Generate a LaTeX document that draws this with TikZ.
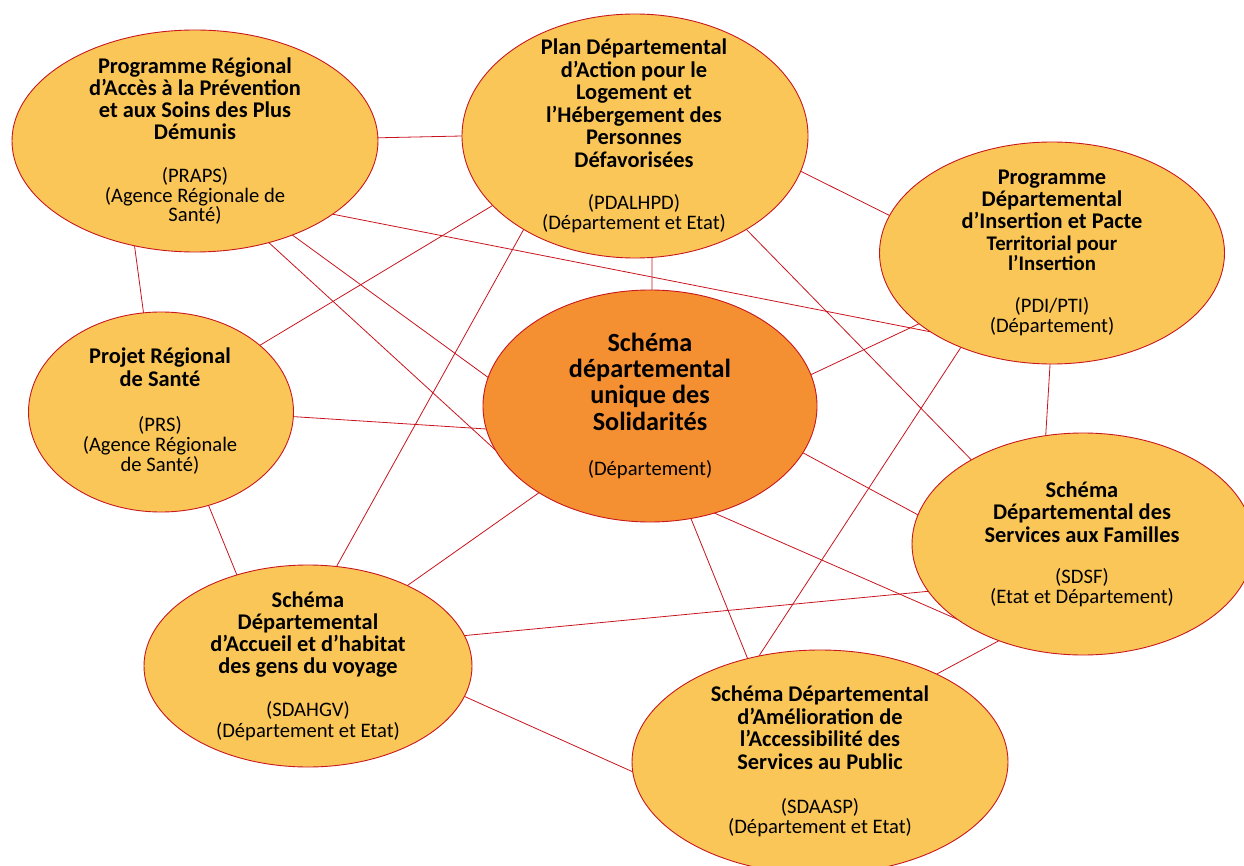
\documentclass[tikz,border=0pt]{standalone}
\usepackage{fontspec}
\setmainfont{Carlito}
\usetikzlibrary{shapes.geometric,backgrounds}
\definecolor{ellY}{RGB}{250,198,88}
\definecolor{ellO}{RGB}{244,143,50}
\definecolor{ellB}{RGB}{200,24,30}
\definecolor{lnR}{RGB}{200,20,30}
\begin{document}
\begin{tikzpicture}[x=1pt,y=-1pt,
  ell/.style={ellipse, draw=ellB, line width=0.9pt, fill=ellY, inner sep=0pt, outer sep=0pt},
  btxt/.style={align=center, anchor=base, inner sep=0pt, font=\bfseries\fontsize{22.4}{22.3}\selectfont},
  bstxt/.style={align=center, anchor=base, inner sep=0pt, font=\bfseries\fontsize{20.8}{20}\selectfont},
  ctxt/.style={align=center, anchor=base, inner sep=0pt, font=\bfseries\fontsize{26.2}{26.3}\selectfont},
  ntxt/.style={align=center, anchor=base, inner sep=0pt, font=\fontsize{20.6}{20}\selectfont},
  lnk/.style={draw=lnR, line width=0.8pt}]
\useasboundingbox (0,0) rectangle (1244,866);
\clip (0,0) rectangle (1244,866);

% ellipses
\node[ell, minimum width=366pt, minimum height=222pt] (praps) at (195,141) {};
\node[ell, minimum width=346pt, minimum height=244pt] (pdal) at (635,136) {};
\node[ell, minimum width=345pt, minimum height=222pt] (pdi) at (1052,253) {};
\node[ell, minimum width=265pt, minimum height=200pt] (prs) at (161,412) {};
\node[ell, fill=ellO, minimum width=334pt, minimum height=232pt] (cen) at (650,406) {};
\node[ell, minimum width=342pt, minimum height=222pt] (sdsf) at (1083,544) {};
\node[ell, minimum width=328pt, minimum height=202pt] (sdahgv) at (308,666) {};
\node[ell, minimum width=376pt, minimum height=224pt] (sdaasp) at (820,762) {};

% texts (anchor = baseline of the last line)
\node[btxt] (prapsT) at (195,140) {Programme Régional\\d’Accès à la Prévention\\et aux Soins des Plus\\Démunis};
\node[ntxt, font=\fontsize{20.6}{19.7}\selectfont] (prapsN) at (195,222) {(PRAPS)\\(Agence Régionale de\\Santé)};

\node[btxt, font=\bfseries\fontsize{22.4}{22.5}\selectfont] (pdalT) at (634,167.5) {Plan Départemental\\d’Action pour le\\Logement et\\l’Hébergement des\\Personnes\\Défavorisées};
\node[ntxt] (pdalN) at (634,230) {(PDALHPD)\\(Département et Etat)};

\node[btxt, font=\bfseries\fontsize{22.4}{22}\selectfont] (pdiT) at (1052,229) {Programme\\Départemental\\d’Insertion et Pacte};
\node[bstxt] (pdiS) at (1052,271) {Territorial pour\\l’Insertion};
\node[ntxt] (pdiN) at (1052,333) {(PDI/PTI)\\(Département)};

\node[btxt, font=\bfseries\fontsize{22.4}{23}\selectfont] (prsT) at (160,386) {Projet Régional\\de Santé};
\node[ntxt] (prsN) at (160,471) {(PRS)\\(Agence Régionale\\de Santé)};

\node[ctxt] (cenT) at (650,430) {Schéma\\départemental\\unique des\\Solidarités};
\node[ntxt] (cenN) at (650,475) {(Département)};

\node[btxt, font=\bfseries\fontsize{22.4}{22.5}\selectfont] (sdsfT) at (1082,542) {Schéma\\Départemental des\\Services aux Familles};
\node[ntxt] (sdsfN) at (1082,603) {(SDSF)\\(Etat et Département)};

\node[btxt, font=\bfseries\fontsize{22.4}{22}\selectfont] (sdahgvT) at (308,673) {Schéma\\Départemental\\d’Accueil et d’habitat\\des gens du voyage};
\node[ntxt, font=\fontsize{20.6}{21}\selectfont] (sdahgvN) at (308,737) {(SDAHGV)\\(Département et Etat)};

\node[btxt, font=\bfseries\fontsize{22.4}{22.4}\selectfont] (sdaaspT) at (820,769) {Schéma Départemental\\d’Amélioration de\\l’Accessibilité des\\Services au Public};
\node[ntxt] (sdaaspN) at (820,833) {(SDAASP)\\(Département et Etat)};

% connectors
\begin{pgfonlayer}{background}
\draw[lnk] (praps.1.6) -- (pdal.180);
\draw[lnk] (praps.-120.9) -- (prs.100);
\draw[lnk] (praps.-28.2) -- (pdi.-147.5);
\draw[lnk] (praps.-44.7) -- (cen.170.5);
\draw[lnk] (praps.-54.3) -- (cen.-164.8);
\draw[lnk] (pdal.-154.9) -- (prs.34.3);
\draw[lnk] (pdal.-140.1) -- (sdahgv.74.9);
\draw[lnk] (pdal.-82.1) -- (cen.89);
\draw[lnk] (pdal.-12.8) -- (pdi.167.4);
\draw[lnk] (pdal.-40.3) -- (sdsf.143.4);
\draw[lnk] (prs.-2.2) -- (cen.-172.5);
\draw[lnk] (prs.-63.7) -- (sdahgv.128.7);
\draw[lnk] (cen.11.2) -- (pdi.-152.6);
\draw[lnk] (cen.-17.8) -- (sdsf.170.8);
\draw[lnk] (cen.-59.9) -- (sdsf.-149.6);
\draw[lnk] (cen.-142) -- (sdahgv.39.3);
\draw[lnk] (cen.-70.3) -- (sdaasp.125.7);
\draw[lnk] (pdi.-134.1) -- (sdaasp.120.1);
\draw[lnk] (pdi.-91) -- (sdsf.109.4);
\draw[lnk] (sdahgv.11.3) -- (sdsf.-163.1);
\draw[lnk] (sdahgv.-11.3) -- (sdaasp.-177.2);
\draw[lnk] (sdsf.-131.9) -- (sdaasp.37.6);
\end{pgfonlayer}
\end{tikzpicture}
\end{document}
